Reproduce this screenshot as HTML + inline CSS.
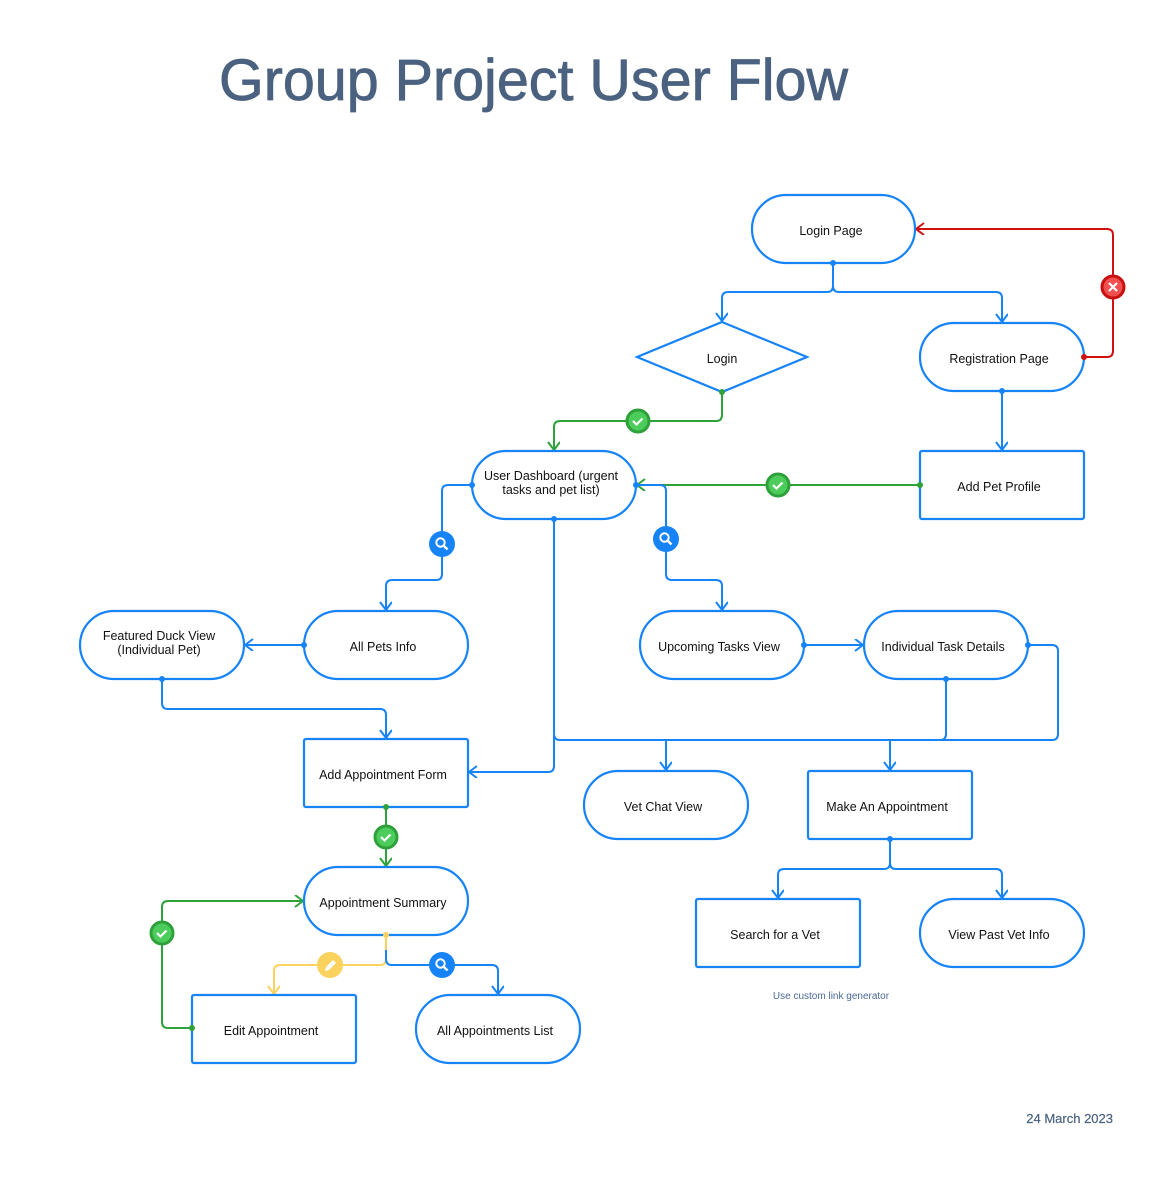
<!DOCTYPE html>
<html><head><meta charset="utf-8"><style>
html,body{margin:0;padding:0;background:#fff;}
svg{display:block;}
text{font-family:"Liberation Sans",Arial,sans-serif;}
.n{fill:#fff;stroke:#1684f7;stroke-width:2.2;}
.l{fill:none;stroke:#1684f7;stroke-width:2;stroke-linejoin:round;}
.g{fill:none;stroke:#2ea13a;stroke-width:2;stroke-linejoin:round;}
.r{fill:none;stroke:#d01010;stroke-width:2;stroke-linejoin:round;}
.y{fill:none;stroke:#fcd25e;stroke-width:2;stroke-linejoin:round;}
.t{font-size:12.5px;fill:#111;text-anchor:middle;}
</style></head><body>
<svg width="1164" height="1193" viewBox="0 0 1164 1193" xmlns="http://www.w3.org/2000/svg">
<defs>
<marker id="ab" markerWidth="14" markerHeight="14" refX="10" refY="6" orient="auto" markerUnits="userSpaceOnUse"><path d="M2,0 L10,6 L2,12" fill="none" stroke="#1684f7" stroke-width="2"/></marker>
<marker id="ag" markerWidth="14" markerHeight="14" refX="10" refY="6" orient="auto" markerUnits="userSpaceOnUse"><path d="M2,0 L10,6 L2,12" fill="none" stroke="#2ea13a" stroke-width="2"/></marker>
<marker id="ar" markerWidth="14" markerHeight="14" refX="10" refY="6" orient="auto" markerUnits="userSpaceOnUse"><path d="M2,0 L10,6 L2,12" fill="none" stroke="#d01010" stroke-width="2"/></marker>
<marker id="ay" markerWidth="14" markerHeight="14" refX="10" refY="6" orient="auto" markerUnits="userSpaceOnUse"><path d="M2,0 L10,6 L2,12" fill="none" stroke="#fcd25e" stroke-width="2"/></marker>
</defs>

<text x="219" y="100" font-size="58" fill="#4a6180" stroke="#4a6180" stroke-width="0.8" textLength="629" lengthAdjust="spacingAndGlyphs">Group Project User Flow</text>

<path class="l" d="M833,263 V286 Q833,292 827,292 H728 Q722,292 722,298 V321" marker-end="url(#ab)"/>
<path class="l" d="M833,263 V286 Q833,292 839,292 H996 Q1002,292 1002,298 V322" marker-end="url(#ab)"/>
<path class="r" d="M1084,357 H1107 Q1113,357 1113,351 V235 Q1113,229 1107,229 H916" marker-end="url(#ar)"/>
<path class="g" d="M722,392 V415 Q722,421 716,421 H560 Q554,421 554,427 V450" marker-end="url(#ag)"/>
<path class="l" d="M1002,391 V450" marker-end="url(#ab)"/>
<path class="g" d="M920,485 H637" marker-end="url(#ag)"/>
<path class="l" d="M472,485 H448 Q442,485 442,491 V574 Q442,580 436,580 H392 Q386,580 386,586 V610" marker-end="url(#ab)"/>
<path class="l" d="M636,485 H660 Q666,485 666,491 V574 Q666,580 672,580 H716 Q722,580 722,586 V610" marker-end="url(#ab)"/>
<path class="l" d="M554,519 V766 Q554,772 548,772 H469" marker-end="url(#ab)"/>
<path class="l" d="M554,519 V734 Q554,740 560,740 H1052 Q1058,740 1058,734 V651 Q1058,645 1052,645 H1028"/>
<path class="l" d="M946,679 V734 Q946,740 940,740"/>
<path class="l" d="M666,740 V770" marker-end="url(#ab)"/>
<path class="l" d="M890,740 V770" marker-end="url(#ab)"/>
<path class="l" d="M804,645 H863" marker-end="url(#ab)"/>
<path class="l" d="M304,645 H245" marker-end="url(#ab)"/>
<path class="l" d="M162,679 V703 Q162,709 168,709 H380 Q386,709 386,715 V738" marker-end="url(#ab)"/>
<path class="g" d="M386,807 V866" marker-end="url(#ag)"/>
<path class="y" d="M386,935 V959 Q386,965 380,965 H280 Q274,965 274,971 V994" marker-end="url(#ay)"/>
<path class="l" d="M386,950 V959 Q386,965 392,965 H492 Q498,965 498,971 V994" marker-end="url(#ab)"/>
<path class="g" d="M192,1028 H168 Q162,1028 162,1022 V907 Q162,901 168,901 H303" marker-end="url(#ag)"/>
<path class="l" d="M890,839 V863 Q890,869 884,869 H784 Q778,869 778,875 V898" marker-end="url(#ab)"/>
<path class="l" d="M890,839 V863 Q890,869 896,869 H996 Q1002,869 1002,875 V898" marker-end="url(#ab)"/>

<rect class="n" x="752" y="195" width="163" height="68" rx="34"/>
<text class="t" x="831" y="235">Login Page</text>
<polygon class="n" points="722,322 807,357 722,392 637,357"/>
<text class="t" x="722" y="363">Login</text>
<rect class="n" x="920" y="323" width="164" height="68" rx="34"/>
<text class="t" x="999" y="363">Registration Page</text>
<rect class="n" x="472" y="451" width="164" height="68" rx="34"/>
<text class="t" x="551" y="480">User Dashboard (urgent</text>
<text class="t" x="551" y="494">tasks and pet list)</text>
<rect class="n" x="920" y="451" width="164" height="68" rx="2"/>
<text class="t" x="999" y="491">Add Pet Profile</text>
<rect class="n" x="80" y="611" width="164" height="68" rx="34"/>
<text class="t" x="159" y="640">Featured Duck View</text>
<text class="t" x="159" y="654">(Individual Pet)</text>
<rect class="n" x="304" y="611" width="164" height="68" rx="34"/>
<text class="t" x="383" y="651">All Pets Info</text>
<rect class="n" x="640" y="611" width="164" height="68" rx="34"/>
<text class="t" x="719" y="651">Upcoming Tasks View</text>
<rect class="n" x="864" y="611" width="164" height="68" rx="34"/>
<text class="t" x="943" y="651">Individual Task Details</text>
<rect class="n" x="304" y="739" width="164" height="68" rx="2"/>
<text class="t" x="383" y="779">Add Appointment Form</text>
<rect class="n" x="584" y="771" width="164" height="68" rx="34"/>
<text class="t" x="663" y="811">Vet Chat View</text>
<rect class="n" x="808" y="771" width="164" height="68" rx="2"/>
<text class="t" x="887" y="811">Make An Appointment</text>
<rect class="n" x="304" y="867" width="164" height="68" rx="34"/>
<text class="t" x="383" y="907">Appointment Summary</text>
<rect class="n" x="696" y="899" width="164" height="68" rx="2"/>
<text class="t" x="775" y="939">Search for a Vet</text>
<rect class="n" x="920" y="899" width="164" height="68" rx="34"/>
<text class="t" x="999" y="939">View Past Vet Info</text>
<rect class="n" x="192" y="995" width="164" height="68" rx="2"/>
<text class="t" x="271" y="1035">Edit Appointment</text>
<rect class="n" x="416" y="995" width="164" height="68" rx="34"/>
<text class="t" x="495" y="1035">All Appointments List</text>

<g fill="#1684f7">
<circle cx="833" cy="263" r="3"/><circle cx="1002" cy="391" r="3"/><circle cx="472" cy="485" r="3"/><circle cx="554" cy="519" r="3"/><circle cx="636" cy="485" r="3"/><circle cx="304" cy="645" r="3"/><circle cx="162" cy="679" r="3"/><circle cx="804" cy="645" r="3"/><circle cx="946" cy="679" r="3"/><circle cx="1028" cy="645" r="3"/><circle cx="890" cy="839" r="3"/>
</g>
<g fill="#2ea13a"><circle cx="722" cy="392" r="3"/><circle cx="920" cy="485" r="3"/><circle cx="386" cy="807" r="3"/><circle cx="192" cy="1028" r="3"/></g>
<circle cx="1084" cy="357" r="3" fill="#d01010"/>
<circle cx="386" cy="935" r="3" fill="#fcd25e"/>

<circle cx="638" cy="421" r="11" fill="#4ccc5a" stroke="#2ea13a" stroke-width="3"/>
<path d="M633,421 l3.5,3.5 l6,-6" fill="none" stroke="#fff" stroke-width="2.2"/>
<circle cx="778" cy="485" r="11" fill="#4ccc5a" stroke="#2ea13a" stroke-width="3"/>
<path d="M773,485 l3.5,3.5 l6,-6" fill="none" stroke="#fff" stroke-width="2.2"/>
<circle cx="386" cy="837" r="11" fill="#4ccc5a" stroke="#2ea13a" stroke-width="3"/>
<path d="M381,837 l3.5,3.5 l6,-6" fill="none" stroke="#fff" stroke-width="2.2"/>
<circle cx="162" cy="933" r="11" fill="#4ccc5a" stroke="#2ea13a" stroke-width="3"/>
<path d="M157,933 l3.5,3.5 l6,-6" fill="none" stroke="#fff" stroke-width="2.2"/>

<circle cx="1113" cy="287" r="11" fill="#f05050" stroke="#c81010" stroke-width="3"/>
<path d="M1109,283 l8,8 M1117,283 l-8,8" stroke="#fff" stroke-width="2.2"/>

<circle cx="442" cy="544" r="13" fill="#1684f7"/>
<circle cx="440.5" cy="542.5" r="4.2" fill="none" stroke="#fff" stroke-width="2"/>
<path d="M443.5,545.5 l4,4" stroke="#fff" stroke-width="2.4"/>
<circle cx="666" cy="539" r="13" fill="#1684f7"/>
<circle cx="664.5" cy="537.5" r="4.2" fill="none" stroke="#fff" stroke-width="2"/>
<path d="M667.5,540.5 l4,4" stroke="#fff" stroke-width="2.4"/>
<circle cx="442" cy="965" r="13" fill="#1684f7"/>
<circle cx="440.5" cy="963.5" r="4.2" fill="none" stroke="#fff" stroke-width="2"/>
<path d="M443.5,966.5 l4,4" stroke="#fff" stroke-width="2.4"/>
<circle cx="330" cy="965" r="13" fill="#fcd25e"/>
<path d="M325,971 l1,-4 l7,-7 l3,3 l-7,7 z" fill="#fff"/>

<text x="831" y="999" font-size="10" fill="#4a6a9a" text-anchor="middle">Use custom link generator</text>
<text x="1113" y="1123" font-size="13" fill="#4a6180" stroke="#4a6180" stroke-width="0.2" text-anchor="end">24 March 2023</text>
</svg>
</body></html>
